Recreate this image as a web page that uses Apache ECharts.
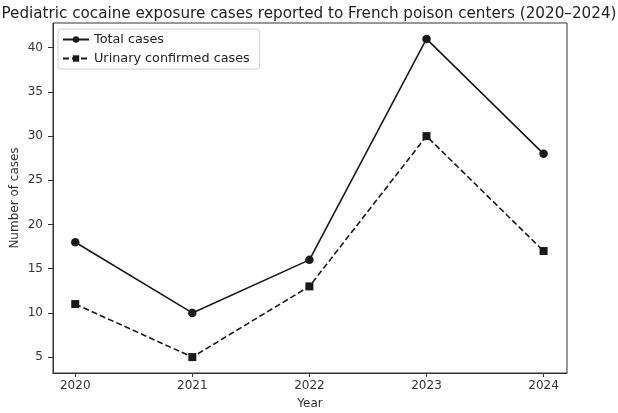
<!DOCTYPE html>
<html>
<head>
<meta charset="utf-8">
<script src="https://cdn.jsdelivr.net/npm/echarts@6/dist/echarts.min.js"></script>
<style>
  html, body { margin: 0; padding: 0; background: #fff; }
  #chart { width: 618px; height: 413px; }
</style>
</head>
<body>
<div id="chart"></div>
<script>
  var years = [2020, 2021, 2022, 2023, 2024];
  var totalCases = [18, 10, 16, 41, 28];
  var urinaryCases = [11, 5, 13, 30, 17];
  var yTicks = [5, 10, 15, 20, 25, 30, 35, 40];

  var font = "DejaVu Sans";
  var ink = "#1a1a1a";

  function pairs(vals) {
    return years.map(function (y, i) { return [y, vals[i]]; });
  }

  var chart = echarts.init(document.getElementById("chart"));
  chart.setOption({
    backgroundColor: "#fff",
    animation: false,
    title: {
      text: "Pediatric cocaine exposure cases reported to French poison centers (2020\u20132024)",
      left: "center",
      top: 2,
      textStyle: { fontFamily: font, fontSize: 15.2, fontWeight: "normal", color: "#222" }
    },
    legend: {
      left: 58,
      top: 29,
      orient: "vertical",
      itemWidth: 26,
      itemHeight: 8,
      itemGap: 6,
      padding: [4, 10, 4, 4],
      borderColor: "#d0d0d0",
      borderWidth: 1,
      borderRadius: 3,
      textStyle: { fontFamily: font, fontSize: 12.8, color: "#222" },
      data: ["Total cases", "Urinary confirmed cases"]
    },
    grid: {
      left: 53, right: 51, top: 23, bottom: 40,
      outerBoundsMode: "none",
      containLabel: false,
      show: true, borderColor: "#333", borderWidth: 1
    },
    xAxis: {
      type: "value",
      min: 2019.81,
      max: 2024.2,
      name: "Year",
      nameLocation: "middle",
      nameGap: 25,
      nameTextStyle: { fontFamily: font, fontSize: 12, color: "#333" },
      splitLine: { show: false },
      axisLine: { show: true, onZero: false, lineStyle: { color: "#333" } },
      axisTick: { show: true, length: 4, customValues: years, lineStyle: { color: "#333" } },
      axisLabel: {
        customValues: years, margin: 7,
        fontFamily: font, fontSize: 12, color: "#333",
        formatter: function (v) { return String(v); }
      }
    },
    yAxis: {
      type: "value",
      min: 3.2,
      max: 42.8,
      name: "Number of cases",
      nameLocation: "middle",
      nameGap: 32,
      nameMoveOverlap: false,
      nameTextStyle: { fontFamily: font, fontSize: 12, color: "#333" },
      splitLine: { show: false },
      axisLine: { show: true, lineStyle: { color: "#333" } },
      axisTick: { show: true, length: 5, customValues: yTicks, lineStyle: { color: "#333" } },
      axisLabel: {
        customValues: yTicks, margin: 10,
        fontFamily: font, fontSize: 12, color: "#333"
      }
    },
    series: [
      {
        name: "Total cases",
        type: "line",
        data: pairs(totalCases),
        symbol: "circle",
        symbolSize: 8.5,
        itemStyle: { color: ink },
        lineStyle: { color: ink, width: 1.6 }
      },
      {
        name: "Urinary confirmed cases",
        type: "line",
        data: pairs(urinaryCases),
        symbol: "rect",
        symbolSize: 8,
        itemStyle: { color: ink },
        lineStyle: { color: ink, width: 1.6, type: [6, 3] }
      }
    ]
  });
</script>
</body>
</html>
